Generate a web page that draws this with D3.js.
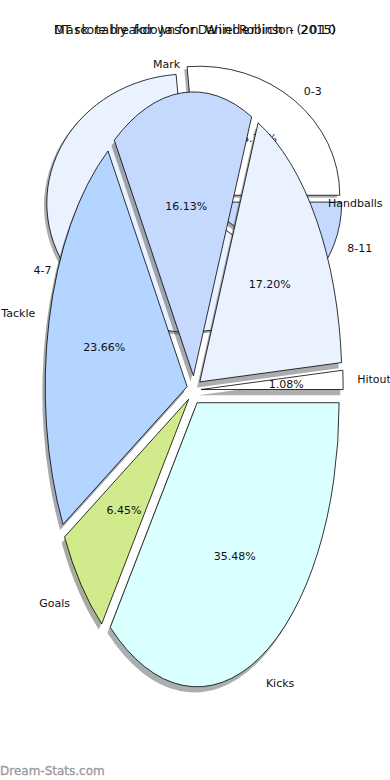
<!DOCTYPE html>
<html>
<head>
<meta charset="utf-8">
<script src="https://cdn.jsdelivr.net/npm/d3@7"></script>
<style>
  body { margin: 0; background: #fff; }
  text { font-family: "DejaVu Sans", sans-serif; }
</style>
</head>
<body>
<div id="chart"></div>
<script>
// data
var backTitle = "Mark tally for Jason Winderlich - 2010";
var backLabels = ["0-3", "4-7", "8-11"];
var backValues = [5, 12, 2];

var frontTitle = "DT score breakdown for Daniel Robinson (2015)";
var frontLabels = ["Hitout", "Handballs", "Mark", "Tackle", "Goals", "Kicks"];
var frontValues = [1, 16, 15, 22, 6, 33];

var sliceColors = ["#ffffff", "#ebf2ff", "#c5d9ff", "#b3d5ff", "#d0ea8c", "#d9ffff"];

var width = 390, height = 780;

var svg = d3.select("#chart")
  .append("svg")
  .attr("width", width)
  .attr("height", height);

// matplotlib style pie: counter-clockwise from 3 o'clock
var pie = d3.pie()
  .sort(null)
  .startAngle(Math.PI / 2)
  .endAngle(Math.PI / 2 - 2 * Math.PI);

var unitArc = d3.arc().innerRadius(0).outerRadius(1);

function drawPie(labels, values, box) {
  // box: pixel extent of the pie's data square [-1,1]
  var x = d3.scaleLinear().domain([-1, 1]).range([box.cx - box.rx, box.cx + box.rx]);
  var y = d3.scaleLinear().domain([-1, 1]).range([box.cy + box.ry, box.cy - box.ry]);
  var sx = box.rx, sy = box.ry;
  var explode = 0.05;
  var total = d3.sum(values);

  var arcs = pie(values).map(function(d, i) {
    var mid = Math.PI / 2 - (d.startAngle + d.endAngle) / 2;
    d.label = labels[i];
    d.color = sliceColors[i];
    d.ox = explode * Math.cos(mid);
    d.oy = explode * Math.sin(mid);
    d.cos = Math.cos(mid);
    d.sin = Math.sin(mid);
    return d;
  });

  var g = svg.append("g");

  // shadows first
  g.selectAll(".shadow")
    .data(arcs)
    .enter()
    .append("path")
    .attr("class", "shadow")
    .attr("transform", function(d) {
      return "translate(" + x(d.ox - 0.02) + "," + y(d.oy - 0.02) + ") scale(" + sx + "," + sy + ")";
    })
    .attr("d", unitArc)
    .style("fill", function(d) {
      var c = d3.rgb(d.color);
      return d3.rgb(c.r * 0.3, c.g * 0.3, c.b * 0.3);
    })
    .style("opacity", 0.45);

  g.selectAll(".wedge")
    .data(arcs)
    .enter()
    .append("path")
    .attr("class", "wedge")
    .attr("transform", function(d) {
      return "translate(" + x(d.ox) + "," + y(d.oy) + ") scale(" + sx + "," + sy + ")";
    })
    .attr("d", unitArc)
    .style("fill", function(d) { return d.color; })
    .style("stroke", "#000")
    .style("stroke-width", 0.8)
    .attr("vector-effect", "non-scaling-stroke");

  // outside labels
  g.selectAll(".lbl")
    .data(arcs)
    .enter()
    .append("text")
    .attr("x", function(d) { return x(d.ox + 1.1 * d.cos); })
    .attr("y", function(d) { return y(d.oy + 1.1 * d.sin); })
    .attr("dy", "0.35em")
    .attr("text-anchor", function(d) { return d.cos > 0 ? "start" : "end"; })
    .style("font-size", "11px")
    .style("fill", "#111")
    .text(function(d) { return d.label; });

  // percentages
  g.selectAll(".pct")
    .data(arcs)
    .enter()
    .append("text")
    .attr("x", function(d) { return x(d.ox + 0.6 * d.cos); })
    .attr("y", function(d) { return y(d.oy + 0.6 * d.sin); })
    .attr("dy", "0.35em")
    .attr("text-anchor", "middle")
    .style("font-size", "11px")
    .style("fill", "#111")
    .text(function(d) { return (d.value / total * 100).toFixed(2) + "%"; });
}

// back pie (first axes), then front pie on top
drawPie(backLabels, backValues, {cx: 194, cy: 200, rx: 141, ry: 129});
drawPie(frontLabels, frontValues, {cx: 194, cy: 390, rx: 142, ry: 284});

// both titles land on the same spot
[backTitle, frontTitle].forEach(function(t) {
  svg.append("text")
    .attr("x", 195)
    .attr("y", 34)
    .attr("text-anchor", "middle")
    .attr("textLength", 282)
    .attr("lengthAdjust", "spacing")
    .style("font-size", "12.5px")
    .style("fill", "#111")
    .text(t);
});

svg.append("text")
  .attr("x", 0)
  .attr("y", 775)
  .style("font-size", "12px")
  .style("fill", "#999")
  .style("stroke", "#999")
  .style("stroke-width", 0.3)
  .text("Dream-Stats.com");
</script>
</body>
</html>
